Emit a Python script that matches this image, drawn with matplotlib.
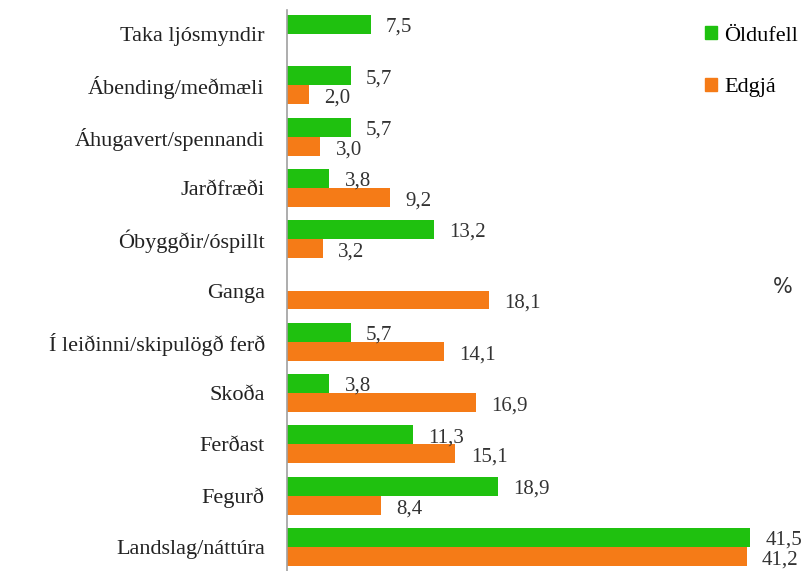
import matplotlib
matplotlib.use("Agg")
import matplotlib.pyplot as plt
import numpy as np

categories = ["Landslag/náttúra", "Fegurð", "Ferðast", "Skoða",
              "Í leiðinni/skipulögð ferð", "Ganga", "Óbyggðir/óspillt",
              "Jarðfræði", "Áhugavert/spennandi", "Ábending/meðmæli",
              "Taka ljósmyndir"]
oldufell = [41.5, 18.9, 11.3, 3.8, 5.7, None, 13.2, 3.8, 5.7, 5.7, 7.5]
edgja = [41.2, 8.4, 15.1, 16.9, 14.1, 18.1, 3.2, 9.2, 3.0, 2.0, None]
series_names = ["Öldufell", "Edgjá"]

GREEN = "#1FC10F"
ORANGE = "#F57B17"
SERIF = ["Liberation Serif", "DejaVu Serif"]

fig = plt.figure(figsize=(8.1, 5.71), dpi=100)
ax = fig.add_axes([287/810, 0.0, 502/810, 561/571])

y = np.arange(len(categories))
h = 0.37
g_vals = [np.nan if v is None else v for v in oldufell]
o_vals = [np.nan if v is None else v for v in edgja]
ax.barh(y + h/2, g_vals, height=h, color=GREEN, label=series_names[0])
ax.barh(y - h/2, o_vals, height=h, color=ORANGE, label=series_names[1])

for yi, v in zip(y, oldufell):
    if v is not None:
        ax.annotate(f"{v:.1f}".replace(".", ","), (v, yi + h/2),
                    xytext=(11, -2), textcoords="offset points",
                    va="center", ha="left", fontsize=15, color="#333333",
                    family=SERIF)
for yi, v in zip(y, edgja):
    if v is not None:
        ax.annotate(f"{v:.1f}".replace(".", ","), (v, yi - h/2),
                    xytext=(11, -2.5), textcoords="offset points",
                    va="center", ha="left", fontsize=15, color="#333333",
                    family=SERIF)

ax.set_xlim(0, 45)
ax.set_ylim(-0.47, len(categories) - 1 + 0.47)
ax.set_yticks(y)
ax.set_yticklabels(categories, family=SERIF, fontsize=16, color="#222222")
ax.tick_params(axis="y", length=0, pad=16)
ax.set_xticks([])
for s in ["top", "right", "bottom"]:
    ax.spines[s].set_visible(False)
ax.spines["left"].set_color("#A0A0A0")
ax.spines["left"].set_linewidth(1.2)

fig.text(783/810, 1 - 287/571, "%", fontsize=15, color="#333333",
         ha="center", va="center")

handles = [plt.Rectangle((0, 0), 1, 1, color=GREEN),
           plt.Rectangle((0, 0), 1, 1, color=ORANGE)]
leg = fig.legend(handles, series_names, loc="upper left",
                 bbox_to_anchor=(705/810, 1 - 26/571), frameon=False,
                 prop={"family": SERIF, "size": 16}, handlelength=0.55,
                 handleheight=0.55, handletextpad=0.3, labelspacing=1.45,
                 borderpad=0, borderaxespad=0)

fig.savefig("out.png", dpi=100)
